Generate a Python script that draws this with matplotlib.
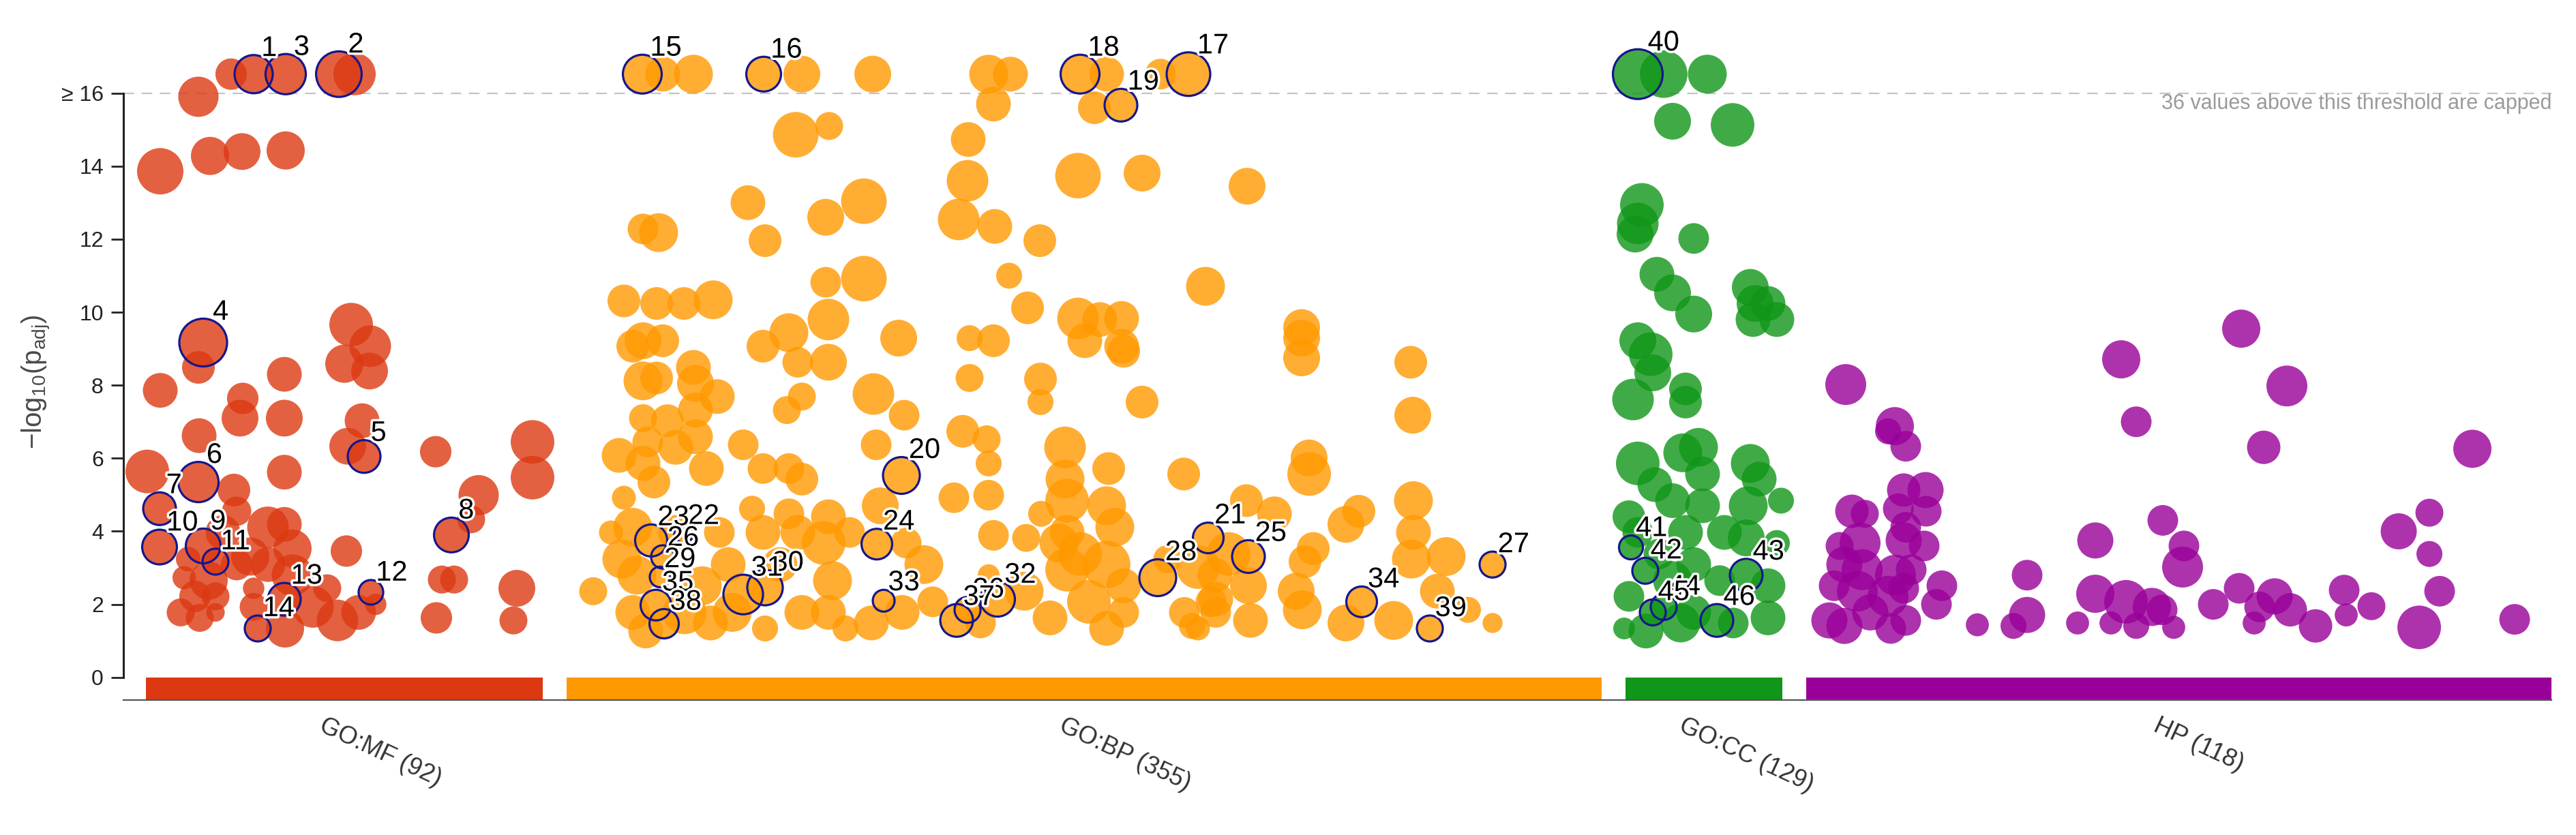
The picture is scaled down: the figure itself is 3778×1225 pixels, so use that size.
import numpy as np
import matplotlib.pyplot as plt
import matplotlib.patheffects as pe

plt.rcParams['font.family'] = ['Liberation Sans', 'DejaVu Sans']
plt.rcParams['mathtext.default'] = 'regular'

# sources (bands on the x axis, in term-position units)
sources = ['GO:MF', 'GO:BP', 'GO:CC', 'HP']
source_counts = [92, 355, 129, 118]
source_colors = ['#dc3912', '#ff9900', '#109618', '#990099']
source_start = [33, 650, 2203, 2468]
source_end = [615, 2168, 2433, 3561]

cap = 16
n_capped = 36

# GO:MF terms: position, -log10(padj), term size
mf_pos = [158, 339, 110, 54, 127, 174, 238, 110, 54, 175, 171, 236, 236, 334, 362, 324, 361, 350, 329,
          458, 600, 600, 521, 510, 467, 485, 577, 572, 459, 35, 111, 162, 236, 327, 166, 146, 212, 236,
          248, 186, 166, 212, 89, 125, 105, 84, 112, 135, 191, 191, 237, 278, 299, 314, 345, 370, 248,
          135, 95]
mf_val = [19.3, 18.5, 15.9, 13.86, 14.28, 14.4, 14.43, 8.49, 7.86, 7.64, 7.1, 8.3, 7.1, 9.66, 9.07,
          8.59, 8.39, 7.03, 6.33, 6.18, 6.45, 5.47, 4.99, 4.33, 2.68, 2.68, 2.44, 1.56, 1.63, 5.64,
          6.62, 5.13, 5.62, 3.46, 4.55, 3.97, 4.11, 4.19, 3.53, 3.31, 3.09, 3.09, 2.73, 2.65, 2.22,
          1.78, 1.63, 1.78, 2.44, 1.93, 1.34, 1.93, 2.44, 1.56, 1.78, 2.0, 2.8, 2.22, 3.24]
mf_size = [150, 3200, 1800, 10000, 1000, 680, 1000, 215, 380, 150, 680, 380, 680, 4600, 2600, 1000,
           680, 380, 680, 150, 4600, 4600, 1800, 56, 56, 56, 680, 56, 150, 4600, 380, 215, 380, 150,
           83, 380, 2600, 380, 1000, 1000, 150, 380, 15, 1000, 150, 56, 56, 4, 9, 56, 1000, 2600, 56,
           2600, 380, 9, 2600, 56, 22]

# GO:BP terms
bp_pos = [791, 836, 995, 1099, 1269, 1301, 1442, 1521, 1276, 1424, 986, 1035, 1239, 1238, 1400, 1494,
          916, 1086, 1030, 1225, 1278, 762, 785, 941, 1344, 1086, 1030, 1299, 1587, 1326, 734, 782,
          822, 865, 1034, 976, 938, 989, 1034, 1137, 1241, 1276, 1400, 1432, 1464, 1410, 1464, 1467,
          762, 791, 747, 836, 762, 782, 839, 871, 1241, 1345, 1345, 1100, 995, 973, 1494, 762, 798,
          839, 1145, 1231, 1266, 909, 727, 769, 810, 839, 1104, 1381, 1445, 1555, 762, 855, 938, 976,
          995, 1269, 778, 734, 1218, 1269, 1381, 1384, 1442, 1454, 976, 1034, 922, 1110, 1346, 747,
          810, 874, 938, 1027, 1148, 1276, 1324, 1372, 1403, 1442, 689, 731, 753, 747, 766, 823, 849,
          861, 887, 893, 941, 963, 995, 1034, 1040, 1059, 1097, 1142, 1174, 1187, 1257, 1269, 1321,
          1359, 1384, 1416, 1442, 1467, 1467, 1556, 1576, 1595, 1601, 1531, 1384, 989, 1065, 715,
          1648, 1728, 1728, 1728, 1888, 1891, 1739, 1739, 1647, 1688, 1621, 1576, 1602, 1650, 1653,
          1602, 1567, 1793, 1812, 1745, 1733, 1720, 1729, 1793, 1863, 1892, 1892, 1889, 1940, 1927,
          1972, 2008]
bp_val = [17.2, 19.0, 16.6, 17.9, 22.5, 16.8, 18.1, 16.4, 15.7, 15.6, 14.86, 15.1, 14.73, 13.6, 13.74,
          13.81, 13.0, 13.04, 12.6, 12.54, 12.35, 12.28, 12.18, 11.96, 11.96, 10.92, 10.82, 11.0,
          10.71, 10.12, 10.31, 10.24, 10.24, 10.34, 9.8, 9.44, 9.07, 8.63, 8.63, 9.29, 9.29, 9.22,
          9.83, 9.8, 9.83, 9.22, 9.07, 8.93, 9.22, 9.22, 9.07, 8.49, 8.12, 8.2, 8.05, 7.69, 8.2, 8.17,
          7.54, 7.76, 7.69, 7.32, 7.54, 7.1, 7.03, 7.32, 7.18, 6.74, 6.52, 6.37, 6.08, 6.45, 6.3, 6.59,
          6.37, 6.3, 5.72, 5.57, 5.86, 5.72, 5.72, 5.72, 5.43, 5.86, 5.35, 4.92, 4.92, 4.99, 5.43,
          4.84, 4.7, 4.11, 4.48, 4.4, 4.62, 4.7, 4.48, 4.11, 3.97, 3.97, 3.97, 3.68, 3.68, 3.89, 3.82,
          3.68, 3.38, 3.09, 2.36, 3.24, 2.8, 1.78, 1.27, 1.78, 2.51, 1.49, 3.09, 1.78, 1.34, 3.09,
          1.78, 1.78, 2.65, 1.34, 1.49, 1.78, 3.09, 2.07, 1.49, 2.8, 2.36, 1.63, 2.95, 2.07, 1.34,
          1.78, 2.51, 1.78, 1.34, 2.07, 2.8, 3.24, 3.97, 3.97, 3.97, 3.97, 13.45, 9.58, 9.29, 8.75,
          8.63, 7.18, 6.01, 5.57, 4.84, 4.48, 3.38, 3.02, 2.14, 2.51, 1.56, 1.78, 1.41, 4.19, 4.55,
          3.53, 3.17, 2.36, 1.85, 1.49, 1.56, 4.84, 3.97, 3.24, 3.31, 2.36, 1.85, 1.49]
bp_size = [380, 1200, 680, 680, 1200, 380, 380, 120, 380, 215, 8000, 56, 380, 2600, 8000, 680, 380,
           8000, 680, 2600, 380, 120, 1200, 215, 215, 8000, 120, 32, 1200, 215, 215, 215, 215, 1200,
           2600, 1200, 215, 120, 680, 680, 32, 215, 2600, 380, 380, 380, 380, 215, 680, 215, 215, 380,
           1200, 215, 680, 380, 56, 215, 32, 2600, 56, 56, 215, 56, 215, 380, 120, 215, 56, 120, 380,
           120, 380, 380, 120, 2600, 215, 215, 380, 380, 120, 120, 215, 32, 215, 18, 120, 120, 1200,
           4600, 1200, 1200, 120, 380, 32, 680, 32, 1200, 380, 120, 380, 4600, 120, 120, 56, 1200,
           4600, 14000, 56, 1200, 1200, 380, 380, 4600, 1200, 380, 380, 1200, 32, 380, 380, 380,
           1200, 32, 380, 380, 1200, 120, 120, 10, 1200, 380, 4600, 4600, 380, 120, 380, 120, 18,
           120, 380, 56, 380, 380, 120, 18, 680, 680, 680, 680, 215, 680, 680, 4600, 215, 380, 4600,
           4600, 380, 680, 380, 120, 32, 680, 215, 215, 215, 680, 1200, 680, 1200, 1200, 380, 1200,
           1200, 380, 32, 6]

# GO:CC terms
cc_pos = [2259, 2323, 2272, 2360, 2227, 2221, 2217, 2303, 2249, 2272, 2303, 2386, 2393, 2412, 2425,
          2390, 2221, 2240, 2243, 2214, 2291, 2291, 2221, 2287, 2310, 2386, 2246, 2316, 2399, 2208,
          2272, 2316, 2383, 2431, 2291, 2380, 2425, 2208, 2201, 2272, 2303, 2303, 2341, 2361, 2412,
          2412, 2233, 2284, 2252, 2348, 2221]
cc_val = [21.4, 17.3, 15.23, 15.13, 12.94, 12.43, 12.14, 12.02, 11.04, 10.53, 9.95, 10.68, 10.24,
          10.24, 9.8, 9.8, 9.22, 8.85, 8.34, 7.61, 7.9, 7.54, 5.86, 6.15, 6.3, 5.86, 5.28, 5.57, 5.43,
          4.4, 4.84, 4.7, 4.7, 4.84, 3.97, 3.82, 3.68, 2.22, 1.34, 2.65, 3.09, 1.78, 2.65, 1.49, 2.51,
          1.63, 1.27, 1.49, 3.38, 3.97, 3.97]
cc_size = [14000, 1200, 680, 4600, 4600, 2600, 680, 120, 380, 680, 680, 680, 680, 380, 380, 380, 680,
           4600, 680, 2600, 215, 215, 4600, 1200, 1200, 1200, 380, 380, 380, 215, 380, 380, 1200, 32,
           380, 680, 32, 120, 10, 1200, 380, 380, 120, 120, 380, 380, 380, 1200, 120, 380, 120]

# HP terms
hp_pos = [2526, 2598, 2588, 2614, 2535, 2554, 2611, 2643, 2603, 2644, 2614, 2517, 2547, 2611, 2641,
          2524, 2550, 2599, 2622, 2509, 2543, 2588, 2611, 2667, 2659, 2502, 2524, 2562, 2592, 2614,
          2719, 2792, 2792, 2772, 2866, 2892, 2892, 2930, 2952, 2937, 2975, 2915, 2952, 2990, 3007,
          2991, 3022, 3020, 3065, 3106, 3103, 3173, 3139, 3125, 3155, 3133, 3178, 3215, 3257, 3260,
          3297, 3337, 3382, 3382, 3397, 3367, 3445, 3507]
hp_val = [8.02, 6.88, 6.74, 6.33, 4.55, 4.48, 5.13, 5.13, 4.62, 4.55, 4.11, 3.6, 3.68, 3.75, 3.6,
          3.09, 2.95, 2.8, 2.95, 2.51, 2.36, 2.22, 2.44, 2.51, 2.0, 1.56, 1.41, 1.78, 1.34, 1.56, 1.44,
          2.8, 1.71, 1.41, 1.49, 3.75, 2.29, 8.71, 7.0, 2.07, 1.93, 1.49, 1.41, 1.85, 1.37, 4.3, 3.6,
          3.02, 2.0, 9.55, 2.44, 7.98, 6.3, 1.49, 2.22, 1.93, 1.85, 1.41, 2.39, 1.71, 1.95, 4.0, 4.51,
          3.38, 2.36, 1.37, 6.26, 1.59]
hp_size = [2150, 1000, 32, 120, 260, 56, 260, 560, 120, 120, 120, 56, 2150, 560, 120, 560, 2150, 2150,
           120, 120, 2150, 2150, 120, 120, 120, 560, 560, 560, 120, 120, 14, 120, 560, 32, 14, 560,
           1000, 1000, 120, 4600, 1000, 14, 32, 120, 14, 120, 120, 2150, 120, 1000, 120, 2150, 260,
           14, 560, 120, 260, 260, 120, 14, 56, 560, 56, 32, 120, 4600, 1000, 120]

# highlighted (numbered) terms
hl_id = list(range(1, 47))
hl_src = [0] * 14 + [1] * 25 + [2] * 7
hl_pos = [191, 316, 238, 117, 353, 110, 53, 481, 117, 53, 135, 363, 236, 197,
          761, 939, 1562, 1403, 1463, 1141, 1591, 822, 774, 1105, 1650, 791, 2008, 1517, 787, 941,
          909, 1282, 1115, 1816, 781, 1238, 1222, 793, 1916,
          2221, 2211, 2232, 2380, 2259, 2243, 2337]
hl_val = [24.1, 30.2, 21.7, 9.17, 6.05, 5.35, 4.62, 3.9, 3.6, 3.57, 3.17, 2.33, 2.14, 1.34,
          17.4, 16.9, 18.8, 20.3, 15.67, 5.53, 3.82, 3.95, 3.75, 3.65, 3.31, 3.3, 3.09, 2.73, 2.75,
          2.46, 2.27, 2.14, 2.1, 2.07, 1.98, 1.85, 1.56, 1.47, 1.34,
          35.0, 3.56, 2.92, 2.8, 1.93, 1.78, 1.56]
hl_size = [1000, 8000, 1800, 15000, 215, 1800, 215, 380, 380, 380, 32, 22, 215, 32,
           1200, 380, 4600, 1200, 215, 680, 120, 5, 180, 120, 215, 15, 32, 680, 7, 470,
           1500, 380, 10, 120, 120, 32, 215, 83, 32,
           26000, 18, 32, 215, 32, 32, 215]

all_pos = [mf_pos, bp_pos, cc_pos, hp_pos]
all_val = [mf_val, bp_val, cc_val, hp_val]
all_size = [mf_size, bp_size, cc_size, hp_size]

dpi = 100
cap_y = 16.52
y_bottom = -0.62


def shown(v):
    v = np.asarray(v, dtype=float)
    return np.where(v > cap, cap_y, v)


def diam_pt(n):
    # bubble diameter grows with log of term size (px at 100 dpi -> pt)
    d_px = 20 + 12 * np.log10(np.asarray(n, dtype=float))
    return d_px * 72 / dpi


fig = plt.figure(figsize=(37.78, 12.25), dpi=dpi)
ax = fig.add_axes([181 / 3778, 1 - 1027 / 1225, 3561 / 3778, 1027 / 1225])

for i in range(len(sources)):
    ax.scatter(all_pos[i], shown(all_val[i]), s=diam_pt(all_size[i]) ** 2,
               color=source_colors[i], alpha=0.8, linewidths=0, zorder=2)

hl_colors = [source_colors[s] for s in hl_src]
ax.scatter(hl_pos, shown(hl_val), s=diam_pt(hl_size) ** 2, color=hl_colors,
           alpha=0.8, linewidths=0, zorder=2)
ax.scatter(hl_pos, shown(hl_val), s=diam_pt(hl_size) ** 2, facecolors='none',
           edgecolors='#16168c', linewidths=2.3, zorder=3)

for num, x, v, n in zip(hl_id, hl_pos, shown(hl_val), hl_size):
    r = diam_pt(n) / 2
    ax.annotate(str(num), (x, v), xytext=(0.4 * r, 0.95 * r), textcoords='offset points',
                ha='left', va='baseline', fontsize=30, color='black', zorder=5,
                path_effects=[pe.withStroke(linewidth=5, foreground='white')])

# source bands under the plot
for i in range(len(sources)):
    ax.bar(source_start[i], -y_bottom, bottom=y_bottom, width=source_end[i] - source_start[i],
           align='edge', color=source_colors[i], linewidth=0, zorder=1)
    ax.annotate(f'{sources[i]} ({source_counts[i]})',
                xy=((source_start[i] + source_end[i]) / 2, 0), xycoords=('data', 'axes fraction'),
                xytext=(-25, -26), textcoords='offset points', rotation=-25,
                rotation_mode='anchor', ha='left', va='center', fontsize=26, color='#333333')

ax.axhline(cap, color='#c4c4c4', lw=1.6, ls=(0, (7, 5)), zorder=0)
ax.text(source_end[-1], 15.71, f'{n_capped} values above this threshold are capped',
        ha='right', va='center', fontsize=22, color='#9a9a9a')

ax.set_xlim(0, source_end[-1])
ax.set_ylim(y_bottom, 18.55)
ax.set_xticks([])
yt = list(range(0, 17, 2))
ax.set_yticks(yt)
ax.set_yticklabels([str(t) for t in yt[:-1]] + ['\u2265 16'], fontsize=23, color='#222222')
ax.tick_params(axis='y', length=13, width=2, pad=8, color='#222222')

for side in ['top', 'right']:
    ax.spines[side].set_visible(False)
ax.spines['left'].set_bounds(0, 16)
ax.spines['left'].set_linewidth(2.2)
ax.spines['left'].set_color('#222222')
ax.spines['bottom'].set_linewidth(1.6)
ax.spines['bottom'].set_color('#555555')

ax.set_ylabel('\u2212log$_{10}$(p$_{adj}$)', fontsize=29, color='#4a4a4a')
ax.yaxis.set_label_coords(-0.0292, 0.455)

fig.savefig('out.png', dpi=dpi)
